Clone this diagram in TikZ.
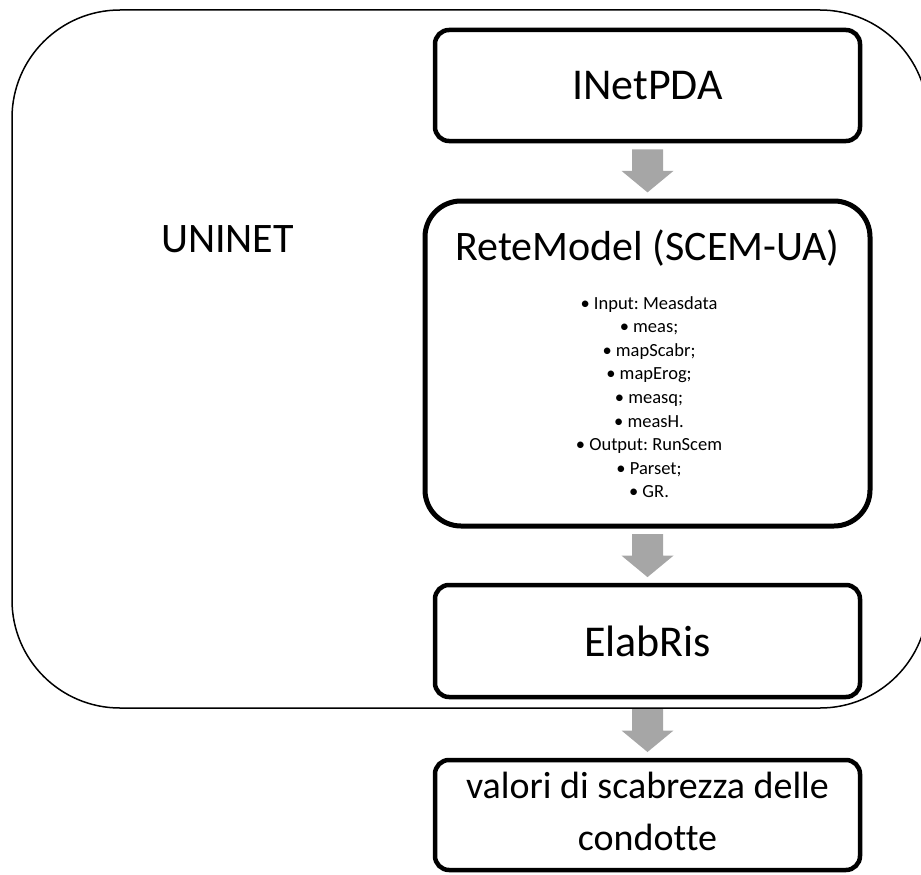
\documentclass[tikz,border=0pt]{standalone}
\usepackage{fontspec}
\setmainfont{Carlito}[Ligatures=NoCommon]
\frenchspacing
\usetikzlibrary{calc}
\definecolor{arrowgray}{RGB}{166,166,166}
\tikzset{
  region/.style={draw=black, line width=1.5pt, rounded corners=108pt},
  stepbox/.style={draw=black, fill=white, rounded corners=14pt, line width=4.5pt,
    minimum width=425pt, inner sep=0pt, align=center},
  bigbox/.style={draw=black, fill=white, rounded corners=36pt, line width=5pt,
    minimum width=445pt, minimum height=325pt, inner sep=0pt},
  bigtext/.style={font=\fontsize{44}{52}\selectfont},
  titletext/.style={font=\fontsize{42}{50}\selectfont, anchor=base},
  labeltext/.style={font=\fontsize{42}{50}\selectfont, anchor=base},
  resulttext/.style={font=\fontsize{38}{52}\selectfont},
  itemtext/.style={font=\fontsize{18.5}{23.6}\selectfont, anchor=base},
  pics/downarrow/.style={code={
    \fill[arrowgray] (-15.5,-21.5) -- (15.5,-21.5) -- (15.5,0) -- (26,0)
      -- (0,21.5) -- (-26,0) -- (-15.5,0) -- cycle;}}
}
\begin{document}
\begin{tikzpicture}[x=1pt,y=-1pt]
\useasboundingbox (0,0) rectangle (921,875);
\clip (0,0) rectangle (921,875);

% enclosing UNINET region
\draw[region] (12,10) rectangle (928,708);
\node[labeltext] (uninet) at (227.5,252) {UNINET};

% process steps
\node[stepbox, minimum height=111pt, bigtext] (inet) at (647.5,85.5) {INetPDA};
\node[bigbox] (rete) at (647.5,363.5) {};
\node[stepbox, minimum height=112pt, bigtext] (elab) at (647.5,641) {ElabRis};
\node[stepbox, minimum height=110pt] (result) at (647.5,815) {};
\node[resulttext, align=center] (resulttxt) at (647.5,811)
  {valori di scabrezza delle\\condotte};

% contents of the model box
\node[titletext] (retetitle) at (647.5,260) {ReteModel (SCEM-UA)};
\foreach \t [count=\i] in {Input: Measdata, meas;, mapScabr;, mapErog;, measq;,
    measH., Output: RunScem, Parset;, GR.} {
  \node[itemtext] (item\i) at (649,{309+23.6*(\i-1)}) {•\ \t};
}

% flow arrows between steps
\path ($(inet.south)!0.5!(rete.north)$) pic {downarrow};
\path ($(rete.south)!0.5!(elab.north)$) pic {downarrow};
\path ($(elab.south)!0.5!(result.north)$) ++(0,2) pic {downarrow};
\end{tikzpicture}
\end{document}
